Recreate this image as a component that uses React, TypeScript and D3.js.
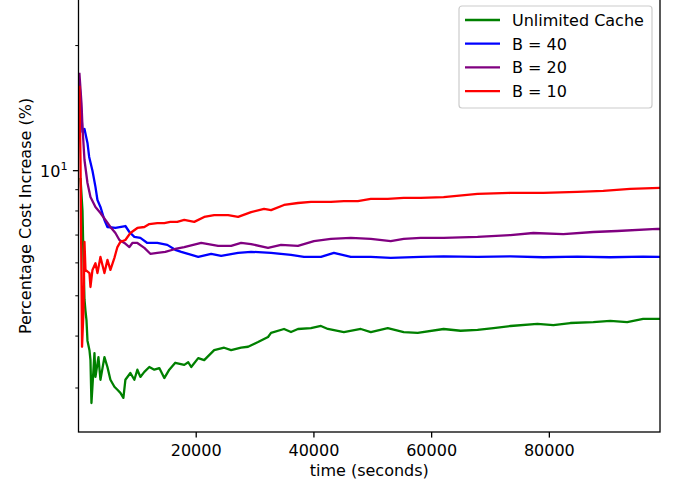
import React from 'react';
import * as d3 from 'd3';

const W = 677;
const H = 485;
const PLOT = { left: 78.5, right: 660, top: -2, bottom: 432 };

const xDomain: [number, number] = [0, 98800];
const yDomain: [number, number] = [2.351, 26.03];
const xTicks = [20000, 40000, 60000, 80000];
const yMajorTicks = [10];
const yMinorTicks = [3, 4, 5, 6, 7, 8, 9, 20];

const seriesNames = ['Unlimited Cache', 'B = 40', 'B = 20', 'B = 10'];
const seriesColors = ['#008000', '#0000ff', '#800080', '#ff0000'];

const unlimited: [number, number][] = [
  [340, 9.6], [680, 8.0], [850, 6.1], [1017, 4.9], [1186, 4.6], [1356, 4.37], [1525, 3.9], [1864, 3.7],
  [2034, 3.5], [2200, 2.76], [2712, 3.64], [2881, 3.19], [3390, 3.56], [3729, 3.14], [4407, 3.56],
  [4915, 3.37], [5424, 3.14], [6102, 3.02], [6610, 2.97], [7119, 2.92], [7627, 2.84], [7966, 3.14],
  [8814, 3.26], [9492, 3.14], [10000, 3.32], [10509, 3.19], [11187, 3.28], [12034, 3.37], [12882, 3.32],
  [13729, 3.35], [14577, 3.17], [15424, 3.32], [16441, 3.45], [17967, 3.41], [18645, 3.46], [19153, 3.37],
  [20340, 3.54], [21357, 3.5], [23052, 3.7], [24747, 3.75], [25933, 3.7], [27628, 3.75], [28815, 3.77],
  [30510, 3.87], [32205, 3.98], [32713, 4.07], [34917, 4.16], [36103, 4.09], [37290, 4.16], [39493, 4.18],
  [41188, 4.23], [42375, 4.16], [45087, 4.09], [47968, 4.16], [49663, 4.09], [52545, 4.18], [55257, 4.09],
  [57630, 4.07], [62037, 4.16], [64918, 4.12], [67800, 4.14], [70512, 4.18], [73393, 4.23], [77970, 4.28],
  [80682, 4.25], [83563, 4.3], [87462, 4.32], [90343, 4.35], [93225, 4.32], [95937, 4.4], [98818, 4.4],
];

const b40: [number, number][] = [
  [150, 16.5], [680, 12.39], [1017, 12.6], [1525, 11.66], [1814, 10.79], [2373, 10.0], [2881, 9.14],
  [3220, 8.5], [3729, 8.18], [4407, 7.61], [4915, 7.32], [6271, 7.28], [7966, 7.36], [8644, 7.12],
  [9492, 6.93], [10509, 6.89], [11695, 6.7], [13390, 6.7], [15085, 6.63], [16441, 6.45], [17458, 6.38],
  [20340, 6.2], [22543, 6.31], [24238, 6.24], [27120, 6.34], [29323, 6.38], [32713, 6.34], [36103, 6.27],
  [38307, 6.2], [41188, 6.2], [43392, 6.34], [46273, 6.2], [49663, 6.2], [53053, 6.17], [58138, 6.2],
  [62037, 6.22], [67800, 6.2], [73393, 6.22], [78987, 6.19], [84750, 6.21], [90343, 6.19], [95937, 6.21],
  [98818, 6.2],
];

const b20: [number, number][] = [
  [150, 17.2], [510, 14.5], [678, 12.74], [1017, 10.61], [1525, 9.34], [2034, 8.64], [2881, 8.18],
  [3729, 7.91], [4576, 7.61], [5424, 7.32], [6271, 7.08], [6949, 6.81], [7797, 6.7], [8644, 6.55],
  [9153, 6.7], [10000, 6.7], [11187, 6.52], [12204, 6.31], [13390, 6.34], [14746, 6.38], [16441, 6.48],
  [17967, 6.55], [20848, 6.7], [23730, 6.59], [25933, 6.59], [27628, 6.7], [29323, 6.66], [32205, 6.52],
  [34408, 6.63], [37290, 6.59], [40002, 6.77], [42883, 6.85], [46273, 6.89], [49663, 6.85], [53053, 6.77],
  [55257, 6.85], [58138, 6.89], [62037, 6.89], [67800, 6.93], [73393, 7.0], [77292, 7.08], [82377, 7.04],
  [87462, 7.12], [91530, 7.16], [98310, 7.24], [98818, 7.24],
];

const b10: [number, number][] = [
  [150, 16.0], [340, 10.6], [600, 3.77], [850, 4.6], [1017, 6.74], [1186, 5.77], [1864, 5.67], [2034, 5.25],
  [2373, 5.77], [2881, 5.99], [3220, 5.67], [3729, 6.2], [4407, 5.67], [4915, 6.1], [5424, 5.77],
  [6102, 6.17], [6610, 6.55], [7119, 6.74], [7966, 6.81], [8814, 7.08], [10000, 7.28], [11187, 7.32],
  [12034, 7.44], [13390, 7.48], [14577, 7.48], [15594, 7.53], [16780, 7.53], [17967, 7.61], [19662, 7.53],
  [21357, 7.74], [23052, 7.82], [25425, 7.82], [27120, 7.74], [29323, 7.95], [31527, 8.09], [32713, 8.04],
  [34917, 8.27], [37290, 8.36], [39493, 8.41], [42883, 8.41], [45087, 8.45], [47460, 8.45], [49663, 8.55],
  [52545, 8.55], [55257, 8.6], [58138, 8.6], [62037, 8.64], [67800, 8.79], [73393, 8.84], [78987, 8.84],
  [84750, 8.89], [89157, 8.94], [93733, 9.04], [98818, 9.09],
];

const seriesData = [unlimited, b40, b20, b10];

const FONT = 'DejaVu Sans, sans-serif';
const FS = 16;

export default function App() {
  const x = d3.scaleLinear().domain(xDomain).range([PLOT.left, PLOT.right]);
  const y = d3.scaleLog().domain(yDomain).range([PLOT.bottom, PLOT.top]);
  const line = d3
    .line<[number, number]>()
    .x((d) => x(d[0]))
    .y((d) => y(d[1]));

  const majorLen = 5.6;
  const minorLen = 3.2;
  const axisColor = '#000';

  const legendX = 459;
  const legendY = 6;
  const legendW = 193;
  const legendH = 102;
  const rowH = 23.7;

  return (
    <svg
      width={W}
      height={H}
      style={{ position: 'absolute', left: 0, top: 0, background: '#fff' }}
      fontFamily={FONT}
    >
      <defs>
        <clipPath id="plotclip">
          <rect x={PLOT.left} y={PLOT.top} width={PLOT.right - PLOT.left} height={PLOT.bottom - PLOT.top} />
        </clipPath>
      </defs>
      <rect x={0} y={0} width={W} height={H} fill="#fff" />

      <g clipPath="url(#plotclip)">
        {seriesData.map((d, i) => (
          <path
            key={i}
            d={line(d) || ''}
            fill="none"
            stroke={seriesColors[i]}
            strokeWidth={2.3}
            strokeLinejoin="round"
          />
        ))}
      </g>

      {/* spines */}
      <rect
        x={PLOT.left}
        y={PLOT.top}
        width={PLOT.right - PLOT.left}
        height={PLOT.bottom - PLOT.top}
        fill="none"
        stroke={axisColor}
        strokeWidth={1.3}
      />

      {/* x ticks */}
      {xTicks.map((t) => (
        <g key={t}>
          <line x1={x(t)} x2={x(t)} y1={PLOT.bottom} y2={PLOT.bottom + majorLen} stroke={axisColor} strokeWidth={1.3} />
          <text x={x(t)} y={PLOT.bottom + 23.5} fontSize={FS} textAnchor="middle" fill="#000">
            {t}
          </text>
        </g>
      ))}

      {/* y major ticks */}
      {yMajorTicks.map((t) => (
        <g key={t}>
          <line x1={PLOT.left - majorLen} x2={PLOT.left} y1={y(t)} y2={y(t)} stroke={axisColor} strokeWidth={1.3} />
          <text x={PLOT.left - 11} y={y(t) + 6} fontSize={FS} textAnchor="end" fill="#000">
            <tspan>10</tspan>
            <tspan dy={-7} fontSize={11.2}>1</tspan>
          </text>
        </g>
      ))}

      {/* y minor ticks */}
      {yMinorTicks.map((t) => (
        <line key={t} x1={PLOT.left - minorLen} x2={PLOT.left} y1={y(t)} y2={y(t)} stroke={axisColor} strokeWidth={1} />
      ))}

      {/* axis labels */}
      <text x={(PLOT.left + PLOT.right) / 2} y={476} fontSize={FS} textAnchor="middle" fill="#000">
        time (seconds)
      </text>
      <text
        transform={`translate(31, ${216}) rotate(-90)`}
        fontSize={FS}
        textAnchor="middle"
        fill="#000"
      >
        Percentage Cost Increase (%)
      </text>

      {/* legend */}
      <rect
        x={legendX}
        y={legendY}
        width={legendW}
        height={legendH}
        rx={3}
        fill="#fff"
        fillOpacity={0.8}
        stroke="#cccccc"
        strokeWidth={1.2}
      />
      {seriesNames.map((name, i) => {
        const cy = 20 + i * rowH;
        return (
          <g key={name}>
            <line x1={465} x2={500} y1={cy} y2={cy} stroke={seriesColors[i]} strokeWidth={2.3} />
            <text x={512} y={cy + 5.8} fontSize={FS} fill="#000">
              {name}
            </text>
          </g>
        );
      })}
    </svg>
  );
}
